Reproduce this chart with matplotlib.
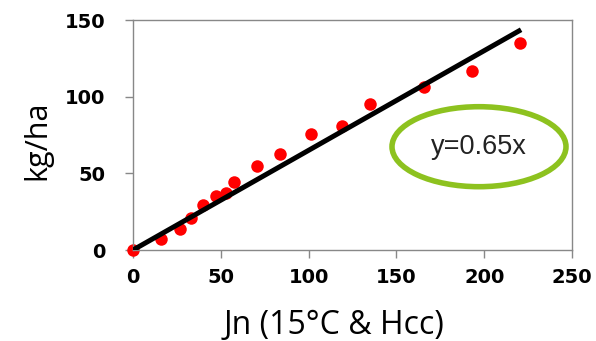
import matplotlib
matplotlib.use("Agg")
import matplotlib.pyplot as plt
from matplotlib.patches import Ellipse
import numpy as np

jn = [0, 15.7, 26.7, 33.3, 39.8, 47.5, 53.2, 57.8, 70.6, 83.5, 101.5, 118.8, 135, 165.9, 192.8, 220.3]
kg = [0, 7.4, 13.9, 20.9, 29.6, 35.2, 37.4, 44.6, 55, 62.8, 75.4, 81, 95, 106.5, 117, 135.2]
slope = 0.65
fit_x = [0, 221]
xticks = [0, 50, 100, 150, 200, 250]
yticks = [0, 50, 100, 150]

fig = plt.figure(figsize=(5.96, 3.41), dpi=100)
ax = fig.add_axes([133/596, 1-250/341, (572-133)/596, (250-20)/341])

ax.plot(jn, kg, 'o', color='#ff0000', markersize=9, markeredgewidth=0, zorder=2, clip_on=False)
ax.plot(fit_x, [slope*v for v in fit_x], color='black', linewidth=3.6, zorder=3, solid_capstyle='butt')

ax.set_xlim(0, 250)
ax.set_ylim(0, 150)
ax.set_xticks(xticks)
ax.set_yticks(yticks)
for sp in ax.spines.values():
    sp.set_color('#888888')
    sp.set_linewidth(1)
ax.tick_params(direction='out', length=6, color='#888888', width=1)
ax.tick_params(axis='x', pad=7)
ax.tick_params(axis='y', pad=14)
for lab in ax.get_xticklabels() + ax.get_yticklabels():
    lab.set_fontfamily('DejaVu Sans')
    lab.set_fontweight('bold')
    lab.set_fontsize(14)

ax.set_xlabel('Jn (15°C & Hcc)', fontfamily='Open Sans', fontsize=23)
ax.xaxis.set_label_coords((334-133)/(572-133), (250-309)/(250-20))
ax.set_ylabel('kg/ha', fontfamily='Open Sans', fontsize=22)
ax.yaxis.set_label_coords((52-133)/(572-133), (250-140)/(250-20))

# ellipse annotation in axes coords based on pixel positions
cx = (479-133)/(572-133)
cy = (250-146.7)/(250-20)
w = 174/(572-133)
h = 80/(250-20)
ell = Ellipse((cx, cy), w, h, transform=ax.transAxes, fill=False, edgecolor='#8dc21f', linewidth=4, zorder=4)
ax.add_patch(ell)
ax.text(cx, cy, 'y=0.65x', transform=ax.transAxes, ha='center', va='center', fontfamily='Liberation Sans', fontsize=19.5, color='#222222')

fig.savefig('out.png', dpi=100)
